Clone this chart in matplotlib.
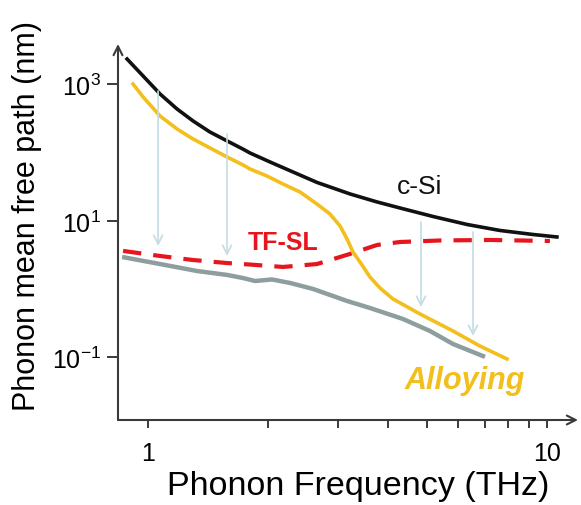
import numpy as np
import matplotlib.pyplot as plt
from matplotlib.ticker import FixedLocator, FuncFormatter, NullLocator, NullFormatter

plt.rcParams['font.family'] = 'Liberation Sans'
plt.rcParams['mathtext.fontset'] = 'custom'
plt.rcParams['mathtext.rm'] = 'Liberation Sans'
plt.rcParams['axes.unicode_minus'] = False

# Phonon frequency (THz) and mean free path (nm)
csi_freq = [0.886, 0.972, 1.072, 1.182, 1.297, 1.43, 1.578, 1.73, 1.801, 2.022,
            2.309, 2.652, 3.208, 3.75, 4.281, 5.179, 6.302, 7.624, 9.224, 10.59]
csi_mfp = [2363, 1332, 726, 438, 292, 201, 149, 113, 99.2, 73.2,
           52.2, 36.7, 24.9, 19.0, 15.5, 11.64, 8.89, 7.26, 6.34, 5.83]

alloy_freq = [0.917, 0.972, 1.072, 1.182, 1.297, 1.43, 1.578, 1.73, 1.801, 1.987,
              2.179, 2.404, 2.652, 2.858, 3.029, 3.153, 3.264, 3.438, 3.6, 3.816,
              4.111, 4.805, 5.813, 6.794, 7.939]
alloy_mfp = [1017, 656, 345, 223, 159, 117.4, 86.6, 66.2, 57.8, 45.6,
             34.8, 26.6, 17.7, 12.66, 8.45, 5.45, 3.51, 2.27, 1.51, 1.04,
             0.72, 0.434, 0.2445, 0.147, 0.0951]

tfsl_freq = [0.866, 1.072, 1.297, 1.578, 1.801, 2.179, 2.652, 3.208, 3.75, 4.281,
             5.392, 7.195, 10.17]
tfsl_mfp = [3.64, 3.07, 2.68, 2.42, 2.30, 2.12, 2.34, 3.29, 4.45, 4.92,
            5.18, 5.27, 5.09]

min_freq = [0.861, 1.072, 1.327, 1.578, 1.73, 1.854, 2.046, 2.27, 2.592, 3.153,
            3.6, 4.356, 5.09, 5.813, 6.993]
min_mfp = [2.97, 2.34, 1.85, 1.62, 1.46, 1.32, 1.39, 1.235, 1.01, 0.673,
           0.531, 0.3665, 0.2445, 0.1577, 0.102]

# reduction arrows: frequency, start and end of each arrow
arrow_freq = [1.06, 1.578, 4.833, 6.525]
arrow_top = [803, 188, 9.67, 6.90]
arrow_bottom = [4.30, 3.07, 0.549, 0.2065]

yticks = [1e-1, 1e1, 1e3]
xticks = [1, 10]
xminor = [2, 3, 4, 5, 6, 7, 8, 9]

# colours
black = '#111111'
gold = '#F2BF1C'
red = '#E5161D'
grey = '#8E9E9E'
arrow_col = '#C4DCE4'
axis_col = '#3a3a3a'

fig = plt.figure(figsize=(5.81, 5.06), dpi=100)
ax = fig.add_axes([118/581, 85/506, 460/581, 376/506])
ax.set_xscale('log')
ax.set_yscale('log')
ax.set_xlim(0.841, 11.96)
ax.set_ylim(10**-1.916, 10**3.593)

for f, top, bot in zip(arrow_freq, arrow_top, arrow_bottom):
    ax.annotate('', xy=(f, bot), xytext=(f, top),
                arrowprops=dict(arrowstyle='->', color=arrow_col, lw=1.2,
                                mutation_scale=16, shrinkA=0, shrinkB=0))

ax.plot(min_freq, min_mfp, color=grey, lw=3.2, solid_capstyle='butt', solid_joinstyle='round')
ax.plot(tfsl_freq, tfsl_mfp, color=red, lw=3.0, dashes=(4.4, 2.9))
ax.plot(alloy_freq, alloy_mfp, color=gold, lw=2.6, solid_joinstyle='round')
ax.plot(csi_freq, csi_mfp, color=black, lw=2.6, solid_joinstyle='round')

ax.text(4.805, 32.5, 'c-Si', fontsize=19, ha='center', va='center', color='#111111')
ax.text(2.179, 4.92, 'TF-SL', fontsize=18, fontweight='bold', ha='center', va='center', color=red)
ax.text(6.23, 0.046, 'Alloying', fontsize=22, fontweight='bold', fontstyle='italic',
        ha='center', va='center', color=gold)

# axes with arrow heads
for s in ax.spines.values():
    s.set_visible(False)
ax.annotate('', xy=(1.0, 0), xytext=(0, 0), xycoords='axes fraction',
            arrowprops=dict(arrowstyle='->', color=axis_col, lw=1.5, mutation_scale=16,
                            shrinkA=0, shrinkB=0))
ax.annotate('', xy=(0, 1.0), xytext=(0, 0), xycoords='axes fraction',
            arrowprops=dict(arrowstyle='->', color=axis_col, lw=1.5, mutation_scale=16,
                            shrinkA=0, shrinkB=0))

ax.yaxis.set_major_locator(FixedLocator(yticks))
ax.yaxis.set_minor_locator(NullLocator())
ax.yaxis.set_major_formatter(FuncFormatter(
    lambda v, p: r'$\mathdefault{10^{%d}}$' % int(round(np.log10(v)))))
ax.xaxis.set_major_locator(FixedLocator(xticks))
ax.xaxis.set_minor_locator(FixedLocator(xminor))
ax.xaxis.set_major_formatter(FuncFormatter(lambda v, p: '%d' % v))
ax.xaxis.set_minor_formatter(NullFormatter())

ax.tick_params(axis='y', which='both', length=8, width=1.4, color=axis_col,
               labelsize=18, pad=4)
ax.tick_params(axis='x', which='both', length=6, width=1.4, color=axis_col,
               labelsize=18, pad=9)

ax.set_xlabel('Phonon Frequency (THz)', fontsize=24.5)
ax.set_ylabel('Phonon mean free path (nm)', fontsize=22)
ax.xaxis.set_label_coords(0.522, -0.133)
ax.yaxis.set_label_coords(-0.165, 0.545)

fig.savefig('out.png', dpi=100)
